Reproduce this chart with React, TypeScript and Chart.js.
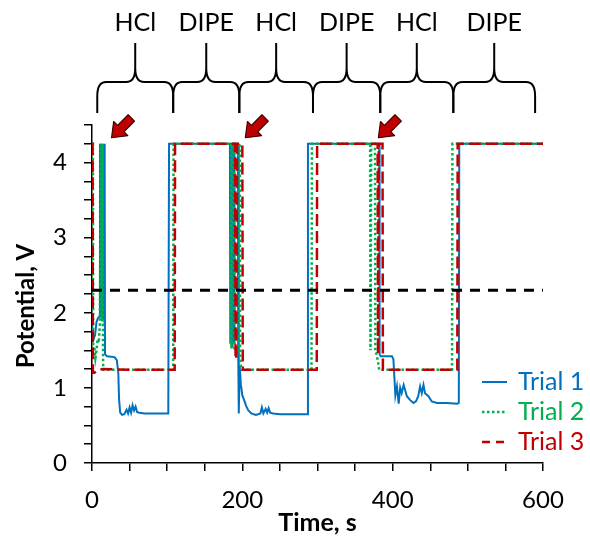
import React, { useEffect, useRef } from 'react';
import { Chart, registerables } from 'chart.js';

Chart.register(...registerables);

// ---------- data ----------
const trial1Time = [
  0, 2, 4, 6, 8, 10.3,
  10.6, 11, 11.4, 11.8, 12.2, 12.6, 13, 13.4, 13.8, 14.2, 14.6, 15, 15.4, 15.8, 16.2, 16.6, 17,
  17.3, 20, 30, 33, 35, 36, 37.5, 40, 43, 46, 48, 50, 52, 54, 56, 58, 60, 63, 70, 101.5, 102.5,
  183.5, 184, 184.5, 186, 186.5, 187, 188.5, 189, 189.5, 194, 194.5, 195, 195.5, 196.5, 198, 200,
  203, 205, 208, 212, 218, 224, 226, 228, 231, 233, 235, 237, 241, 250, 286.5, 287.3,
  382, 382.6, 384, 399, 401, 402.5, 403.6, 405.7, 408, 410, 412, 414.6, 418.9, 423, 427.7, 431,
  434, 436.5, 438.7, 441, 443, 447.6, 452, 459, 472, 486, 488, 488.6, 600,
];
const trial1Volt = [
  1.85, 1.65, 1.7, 1.88, 1.93, 1.95,
  4.25, 1.95, 4.25, 1.95, 4.25, 1.95, 4.25, 1.9, 4.25, 1.9, 4.25, 1.9, 4.25, 1.9, 4.25, 1.85, 4.25,
  1.45, 1.42, 1.41, 1.37, 1.2, 0.85, 0.67, 0.64, 0.65, 0.71, 0.66, 0.74, 0.67, 0.77, 0.7, 0.75, 0.68, 0.67, 0.66, 0.66, 4.25,
  4.25, 1.6, 4.25, 4.25, 1.55, 4.25, 4.25, 1.6, 4.25, 4.25, 1.55, 4.25, 0.66, 1.3, 1.05, 0.9,
  0.82, 0.76, 0.7, 0.66, 0.64, 0.66, 0.74, 0.66, 0.72, 0.67, 0.73, 0.67, 0.66, 0.65, 0.65, 4.25,
  4.25, 1.45, 1.42, 1.42, 1.38, 1.1, 0.9, 1.02, 0.79, 1.0, 0.93, 1.04, 0.89, 0.84, 0.8, 0.82,
  0.89, 1.02, 0.93, 1.04, 0.93, 0.89, 0.82, 0.8, 0.8, 0.79, 0.8, 4.25, 4.25,
];

const trial2Time = [
  0, 1.2, 1.6, 3, 4.5, 6, 7.5, 9, 10.5,
  11.5, 13, 14, 14.6, 14.9, 60, 108, 108.5,
  185, 185.5, 186.5, 189, 189.5, 191, 193, 195, 195.5, 196.5, 197, 198, 199.5, 292, 292.6,
  370, 370.5, 371.5, 376.5, 377, 378.5, 380.5, 382, 479, 479.5, 600,
];
const trial2Volt = [
  4.25, 4.25, 1.45, 1.55, 1.4, 1.5, 1.65, 1.6, 1.85,
  4.25, 1.9, 4.25, 1.6, 1.24, 1.24, 1.24, 4.25,
  4.25, 1.52, 4.25, 4.25, 1.5, 1.48, 1.45, 1.5, 4.25, 4.25, 1.4, 1.3, 1.24, 1.24, 4.25,
  4.25, 1.5, 4.25, 4.25, 1.48, 1.45, 1.35, 1.24, 1.24, 4.25, 4.25,
];

const trial3Time = [
  0, 0.8, 1.2, 3, 6, 10, 14, 60, 110, 110.5,
  190.5, 191, 192, 193, 200, 200.6, 299, 299.5,
  380, 380.5, 381.5, 386.5, 387, 486, 486.5, 600,
];
const trial3Volt = [
  4.25, 4.25, 1.2, 1.2, 1.22, 1.24, 1.25, 1.24, 1.24, 4.25,
  4.25, 1.38, 1.4, 4.25, 4.25, 1.24, 1.24, 4.25,
  4.25, 1.45, 4.25, 4.25, 1.24, 1.24, 4.25, 4.25,
];

const thresholdTime = [0, 600];
const thresholdVolt = [2.3, 2.3];

const seriesNames = ['Trial 1', 'Trial 2', 'Trial 3'];
const phaseLabels = ['HCl', 'DIPE', 'HCl', 'DIPE', 'HCl', 'DIPE'];
const phaseBounds = [7, 108, 196, 294, 383.5, 480.7, 589.5];
const arrowTimes = [26, 204, 381];
const arrowVolt = 4.33;

// ---------- styles ----------
const FONT = 'Lato, "Open Sans", sans-serif';
const BLUE = '#0070C0';
const GREEN = '#00B050';
const RED = '#C00000';

const zip = (ts: number[], vs: number[]) => ts.map((t, i) => ({ x: t, y: vs[i] }));

const overlayPlugin = {
  id: 'overlay',
  afterDraw(chart: any) {
    const ctx = chart.ctx as CanvasRenderingContext2D;
    const xs = chart.scales.x;
    const ys = chart.scales.y;
    ctx.save();

    // curly braces + phase labels
    const yBottom = 113, yBar = 82, yTip = 43;
    ctx.strokeStyle = '#000';
    ctx.lineWidth = 2;
    ctx.lineJoin = 'round';
    ctx.font = `25px ${FONT}`;
    ctx.fillStyle = '#000';
    ctx.textAlign = 'center';
    ctx.textBaseline = 'middle';
    for (let i = 0; i < phaseLabels.length; i++) {
      const a = xs.getPixelForValue(phaseBounds[i]);
      const b = xs.getPixelForValue(phaseBounds[i + 1]);
      const m = (a + b) / 2;
      ctx.beginPath();
      ctx.moveTo(a, yBottom);
      ctx.lineTo(a, yBar + 14);
      ctx.quadraticCurveTo(a, yBar, a + 9, yBar);
      ctx.lineTo(m - 9, yBar);
      ctx.quadraticCurveTo(m, yBar, m, yBar - 14);
      ctx.lineTo(m, yTip);
      ctx.moveTo(m, yTip);
      ctx.lineTo(m, yBar - 14);
      ctx.quadraticCurveTo(m, yBar, m + 9, yBar);
      ctx.lineTo(b - 9, yBar);
      ctx.quadraticCurveTo(b, yBar, b, yBar + 14);
      ctx.lineTo(b, yBottom);
      ctx.stroke();
      ctx.fillText(phaseLabels[i], m, 23);
    }

    // block arrows
    const ux = Math.SQRT1_2, uy = -Math.SQRT1_2;
    const vx = Math.SQRT1_2, vy = Math.SQRT1_2;
    const shape = [[0, 0], [13, -10], [13, -4.5], [28, -4.5], [28, 4.5], [13, 4.5], [13, 10]];
    for (const t of arrowTimes) {
      const tx = xs.getPixelForValue(t);
      const ty = ys.getPixelForValue(arrowVolt);
      ctx.beginPath();
      shape.forEach(([u, v], i) => {
        const px = tx + u * ux + v * vx;
        const py = ty + u * uy + v * vy;
        if (i === 0) ctx.moveTo(px, py); else ctx.lineTo(px, py);
      });
      ctx.closePath();
      ctx.fillStyle = RED;
      ctx.fill();
      ctx.strokeStyle = '#400000';
      ctx.lineWidth = 1.2;
      ctx.stroke();
    }

    // legend
    ctx.textAlign = 'left';
    ctx.textBaseline = 'middle';
    ctx.font = `25px ${FONT}`;
    chart.data.datasets.slice(0, 3).forEach((ds: any, i: number) => {
      const y = 382 + 30 * i;
      ctx.beginPath();
      ctx.setLineDash(i === 2 ? [8, 6] : (ds.borderDash || []));
      ctx.strokeStyle = ds.borderColor;
      ctx.lineWidth = ds.borderWidth;
      ctx.moveTo(482, y);
      ctx.lineTo(507, y);
      ctx.stroke();
      ctx.setLineDash([]);
      ctx.fillStyle = ds.borderColor;
      ctx.fillText(seriesNames[i], 518, y);
    });

    // y-axis title
    ctx.translate(26, 306);
    ctx.rotate(-Math.PI / 2);
    ctx.font = `bold 24px ${FONT}`;
    ctx.fillStyle = '#000';
    ctx.textAlign = 'center';
    ctx.fillText('Potential, V', 0, 0);
    ctx.restore();
  },
};

export default function App() {
  const ref = useRef<HTMLCanvasElement>(null);
  useEffect(() => {
    if (!ref.current) return;
    const chart = new Chart(ref.current, {
      type: 'scatter',
      data: {
        datasets: [
          { label: seriesNames[0], data: zip(trial1Time, trial1Volt), showLine: true, borderColor: BLUE, backgroundColor: BLUE, borderWidth: 2, pointRadius: 0, tension: 0, order: 4 },
          { label: seriesNames[1], data: zip(trial2Time, trial2Volt), showLine: true, borderColor: GREEN, backgroundColor: GREEN, borderWidth: 2.5, borderDash: [2.5, 2.5], pointRadius: 0, tension: 0, order: 3 },
          { label: seriesNames[2], data: zip(trial3Time, trial3Volt), showLine: true, borderColor: RED, backgroundColor: RED, borderWidth: 2.5, borderDash: [12, 5], pointRadius: 0, tension: 0, order: 2 },
          { label: 'threshold', data: zip(thresholdTime, thresholdVolt), showLine: true, borderColor: '#000', borderWidth: 3, borderDash: [10, 8], pointRadius: 0, order: 1 },
        ] as any,
      },
      options: {
        responsive: false,
        animation: false,
        devicePixelRatio: 1,
        layout: { padding: { top: 125, right: 47, left: 0, bottom: 0 } },
        plugins: { legend: { display: false }, tooltip: { enabled: false } },
        scales: {
          x: {
            type: 'linear', min: 0, max: 600,
            afterFit: (s: any) => { s.height = 78; },
            ticks: {
              stepSize: 50, autoSkip: false, maxRotation: 0, color: '#000', padding: 15,
              font: { family: FONT, size: 24 },
              callback: (v: any) => (Number(v) % 200 === 0 ? String(v) : ''),
            },
            grid: { drawOnChartArea: false, drawTicks: true, tickLength: 8, color: '#000', lineWidth: 1.5 },
            border: { color: '#000', width: 1.5 },
            title: { display: true, text: 'Time, s', color: '#000', font: { family: FONT, size: 25, weight: 'bold' }, padding: { top: 0, bottom: 3 } },
          },
          y: {
            type: 'linear', min: 0, max: 4.5,
            afterFit: (s: any) => { s.width = 92; },
            ticks: {
              stepSize: 0.25, autoSkip: false, color: '#000', padding: 17,
              font: { family: FONT, size: 24 },
              callback: (v: any) => (Number.isInteger(Number(v)) ? String(v) : ''),
            },
            grid: { drawOnChartArea: false, drawTicks: true, tickLength: 8, color: '#000', lineWidth: 1.5 },
            border: { color: '#000', width: 1.5 },
          },
        },
      } as any,
      plugins: [overlayPlugin],
    });
    return () => chart.destroy();
  }, []);
  return (
    <div style={{ position: 'absolute', left: 0, top: 0, width: 590, height: 541, background: '#fff' }}>
      <canvas ref={ref} width={590} height={541} style={{ display: 'block' }} />
    </div>
  );
}
